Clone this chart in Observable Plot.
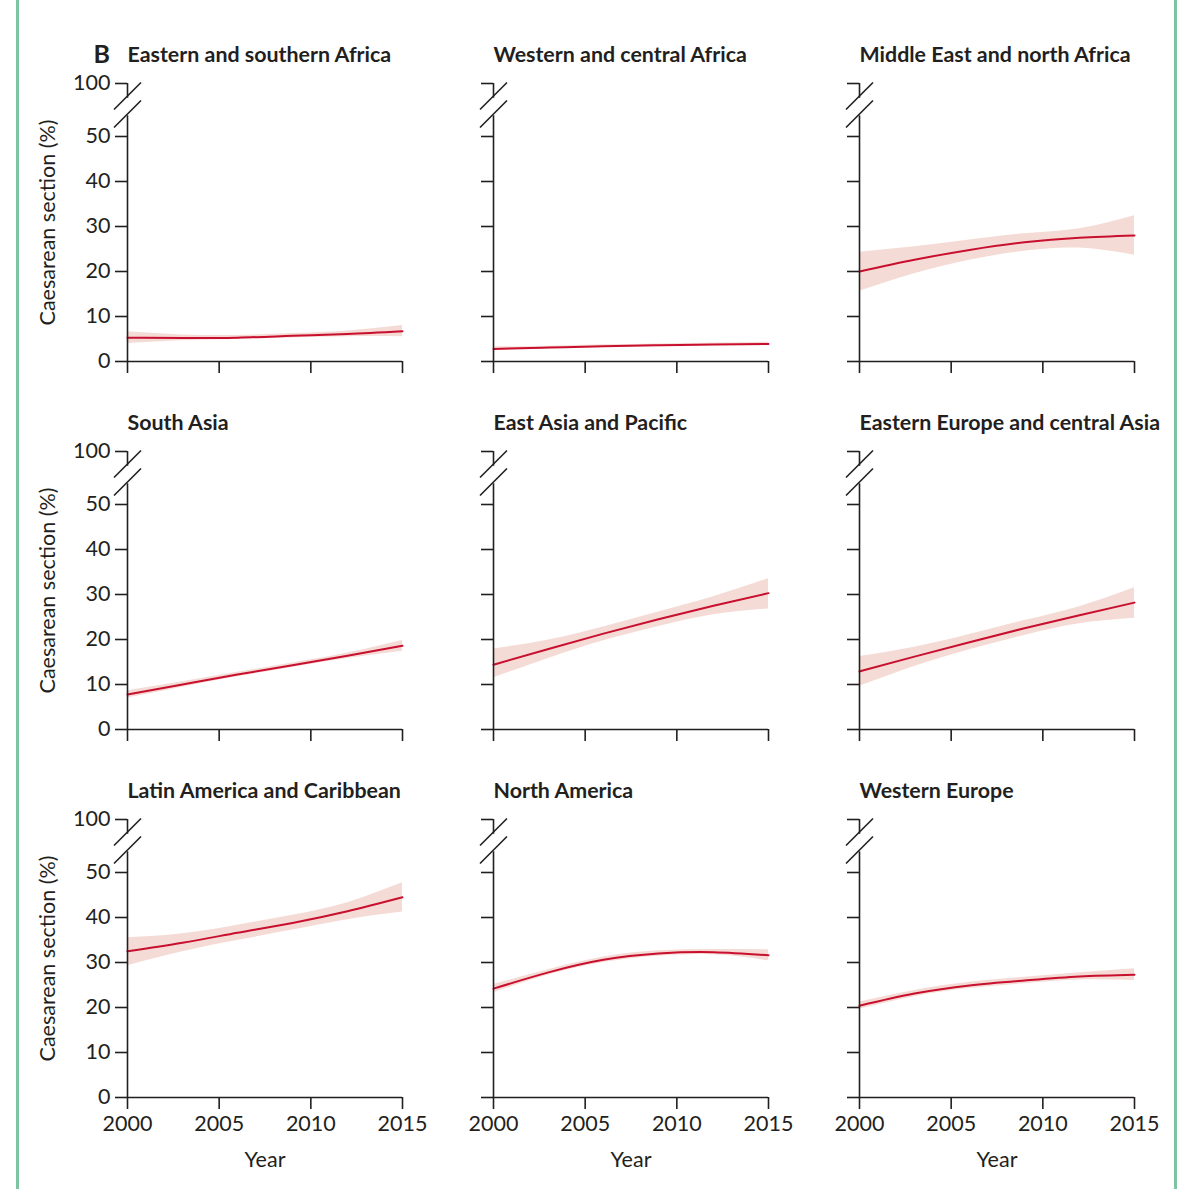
<!DOCTYPE html>
<html>
<head>
<meta charset="utf-8">
<script src="https://cdn.jsdelivr.net/npm/d3@7"></script>
<script src="https://cdn.jsdelivr.net/npm/@observablehq/plot@0.6"></script>
<style>
  body { margin: 0; background: #fff; }
  #wrap { position: relative; width: 1178px; height: 1189px; }
  #wrap svg { position: absolute; left: 0; top: 0; }
  .edge { position: absolute; top: 0; height: 1189px; width: 3px; background: #7fc4a2; z-index: 2; }
</style>
</head>
<body>
<div id="wrap">
  <div class="edge" style="left:16px"></div>
  <div class="edge" style="left:1174px"></div>
</div>
<script>
// ---- data ----
const regions = [
  "Eastern and southern Africa", "Western and central Africa", "Middle East and north Africa",
  "South Asia", "East Asia and Pacific", "Eastern Europe and central Asia",
  "Latin America and Caribbean", "North America", "Western Europe"
];
const years = [2000, 2003, 2006, 2009, 2012, 2015];
// central estimate (%)
const midValues = [
  [5.3, 5.2, 5.3, 5.7, 6.1, 6.7],
  [2.8, 3.1, 3.4, 3.6, 3.8, 3.9],
  [20.0, 22.6, 24.8, 26.5, 27.5, 28.0],
  [7.8, 10.0, 12.2, 14.3, 16.4, 18.6],
  [14.4, 17.9, 21.3, 24.5, 27.5, 30.3],
  [12.9, 16.2, 19.4, 22.5, 25.4, 28.2],
  [32.5, 34.4, 36.6, 38.8, 41.4, 44.5],
  [24.2, 27.8, 30.6, 32.0, 32.3, 31.6],
  [20.4, 23.1, 24.9, 26.0, 26.9, 27.3]
];
// lower bound of uncertainty band (%)
const lowValues = [
  [4.0, 4.6, 4.9, 5.2, 5.5, 5.5],
  [2.4, 2.8, 3.1, 3.3, 3.5, 3.5],
  [15.6, 19.5, 22.5, 24.5, 25.2, 23.6],
  [7.0, 9.4, 11.7, 13.8, 15.8, 17.4],
  [11.5, 15.8, 19.7, 22.9, 25.5, 26.8],
  [9.6, 14.0, 17.7, 20.9, 23.5, 24.7],
  [29.3, 32.4, 34.9, 37.2, 39.5, 41.2],
  [23.3, 27.2, 30.0, 31.4, 31.7, 30.4],
  [19.6, 22.4, 24.2, 25.3, 26.1, 26.0]
];
// upper bound of uncertainty band (%)
const highValues = [
  [6.6, 5.9, 5.8, 6.2, 6.8, 8.0],
  [3.2, 3.4, 3.7, 3.9, 4.1, 4.3],
  [24.3, 25.5, 27.0, 28.4, 29.5, 32.4],
  [8.6, 10.6, 12.7, 14.8, 17.0, 19.8],
  [17.9, 19.9, 22.8, 26.1, 29.5, 33.5],
  [16.2, 18.3, 21.1, 24.2, 27.3, 31.5],
  [35.5, 36.4, 38.3, 40.5, 43.3, 47.7],
  [25.1, 28.4, 31.2, 32.6, 32.9, 32.8],
  [21.2, 23.8, 25.6, 26.7, 27.7, 28.6]
];
const yTickValues = [0, 10, 20, 30, 40, 50];
const yBreakLabel = "100";
const xTickValues = [2000, 2005, 2010, 2015];

// ---- build tables ----
const panels = regions.map((region, i) => ({region, col: i % 3, row: Math.floor(i / 3)}));
const rows = [];
panels.forEach((p, i) => years.forEach((year, j) => rows.push({
  ...p, year, mid: midValues[i][j], lo: lowValues[i][j], hi: highValues[i][j]
})));

// broken axis: the "100" tick sits a short distance above 50
const yTop = 50 + 53 / 4.5;
const breakLow = 54.6, breakHigh = 58.5, breakMid = 57.0;
const breakSymbol = {
  draw(ctx) {
    ctx.moveTo(-13.5, 4.5); ctx.lineTo(13.5, -22.5);
    ctx.moveTo(-13.5, 22.5); ctx.lineTo(13.5, -4.5);
  }
};
const ink = "#231f20";
const font = "Lato, 'Open Sans', sans-serif";
const labelSize = 21.5;

const chart = Plot.plot({
  width: 1178,
  height: 1189,
  marginLeft: 127,
  marginRight: 44,
  marginTop: 83,
  marginBottom: 92,
  style: {fontFamily: font, fontSize: "21px", color: ink, background: "transparent", overflow: "visible"},
  fx: {axis: null, domain: [0, 1, 2], paddingInner: 91 / 366, paddingOuter: 0},
  fy: {axis: null, domain: [0, 1, 2], paddingInner: 90 / 368, paddingOuter: 0},
  x: {domain: [2000, 2015]},
  y: {domain: [0, yTop]},
  marks: [
    Plot.areaY(rows, {x: "year", y1: "lo", y2: "hi", z: "region", fx: "col", fy: "row",
      fill: "#f5dbd6", curve: "natural"}),
    Plot.lineY(rows, {x: "year", y: "mid", z: "region", fx: "col", fy: "row",
      stroke: "#c8102e", strokeWidth: 2, curve: "natural"}),
    // axis lines with break
    Plot.ruleX(panels, {x: 2000, y1: 0, y2: breakLow, fx: "col", fy: "row", stroke: ink, strokeWidth: 1.6}),
    Plot.ruleX(panels, {x: 2000, y1: breakHigh, y2: yTop, fx: "col", fy: "row", stroke: ink, strokeWidth: 1.6}),
    Plot.ruleY(panels, {y: 0, fx: "col", fy: "row", stroke: ink, strokeWidth: 1.6}),
    Plot.dot(panels, {x: 2000, y: breakMid, fx: "col", fy: "row", symbol: breakSymbol, r: 5,
      fill: "none", stroke: ink, strokeWidth: 1.6}),
    // ticks on every panel
    Plot.axisY({ticks: [...yTickValues, yTop], tickSize: 12, fill: "none", stroke: ink, strokeWidth: 1.6,
      facetAnchor: null, label: null}),
    Plot.axisX({ticks: xTickValues, tickSize: 12, fill: "none", stroke: ink, strokeWidth: 1.6,
      facetAnchor: null, label: null}),
    // tick labels on outer panels
    Plot.axisY({ticks: [...yTickValues, yTop], tickSize: 0, tickPadding: 17,
      tickFormat: d => d === yTop ? yBreakLabel : String(d), fill: ink, fontSize: labelSize,
      facetAnchor: "left", label: null}),
    Plot.axisX({ticks: xTickValues, tickSize: 0, tickPadding: 18, tickFormat: d => String(d),
      fill: ink, fontSize: labelSize, facetAnchor: "bottom", label: null}),
    // panel titles
    Plot.text(panels, {text: "region", fx: "col", fy: "row", frameAnchor: "top-left", textAnchor: "start",
      lineAnchor: "middle", dy: -28, fontWeight: "bold", fontSize: 21.4, fill: ink}),
    Plot.text(panels.slice(0, 1), {text: () => "B", fx: "col", fy: "row", frameAnchor: "top-left",
      textAnchor: "start", lineAnchor: "middle", dx: -34, dy: -29, fontWeight: "bold", fontSize: 25, fill: ink}),
    // axis titles
    Plot.text(panels.filter(p => p.col === 0), {text: () => "Caesarean section (%)", fx: "col", fy: "row",
      frameAnchor: "left", textAnchor: "middle", rotate: -90, dx: -79, lineAnchor: "middle",
      fontSize: labelSize, fill: ink}),
    Plot.text(panels.filter(p => p.row === 2), {text: () => "Year", fx: "col", fy: "row",
      frameAnchor: "bottom", dy: 63, lineAnchor: "middle", fontSize: labelSize, fill: ink})
  ]
});
document.getElementById("wrap").appendChild(chart);
</script>
</body>
</html>
